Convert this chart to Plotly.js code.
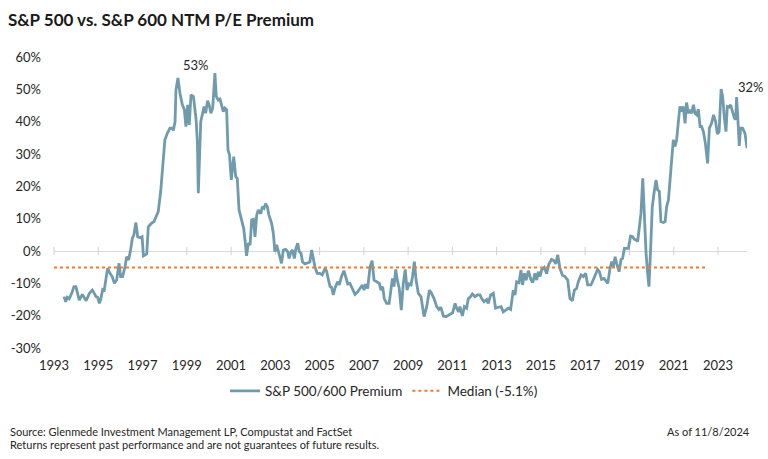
<!DOCTYPE html>
<html>
<head>
<meta charset="utf-8">
<script src="https://cdn.plot.ly/plotly-3.0.1.min.js"></script>
<style>
html,body{margin:0;padding:0;background:#fff;}
#chart{width:768px;height:459px;}
</style>
</head>
<body>
<div id="chart"></div>
<script>
// Dates as decimal years, premium in %
const years = [
1993.45,1993.53,1993.60,1993.69,1993.80,1993.90,1993.99,1994.07,1994.14,1994.28,1994.45,1994.60,1994.73,1994.82,1994.90,1994.97,
1995.05,1995.12,1995.20,1995.27,1995.38,1995.42,1995.53,1995.63,1995.73,1995.83,1995.94,1996.01,1996.10,1996.21,1996.28,1996.37,
1996.46,1996.54,1996.61,1996.70,1996.78,1996.89,1996.98,1997.04,1997.19,1997.26,1997.41,1997.52,1997.61,1997.71,1997.82,1997.94,
1998.01,1998.12,1998.24,1998.33,1998.39,1998.47,1998.51,1998.60,1998.69,1998.80,1998.89,1998.96,1999.04,1999.11,1999.19,1999.30,
1999.42,1999.48,1999.52,1999.63,1999.71,1999.78,1999.85,1999.94,2000.01,2000.09,2000.17,2000.27,2000.33,2000.42,2000.50,2000.57,
2000.65,2000.72,2000.80,2000.86,2000.93,2001.01,2001.12,2001.21,2001.28,2001.36,2001.48,2001.57,2001.63,2001.70,2001.78,2001.86,
2001.93,2002.01,2002.08,2002.16,2002.23,2002.34,2002.41,2002.49,2002.56,2002.64,2002.71,2002.83,2002.91,2002.98,2003.06,2003.13,
2003.21,2003.28,2003.36,2003.46,2003.56,2003.62,2003.71,2003.78,2003.86,2003.93,2004.01,2004.08,2004.16,2004.23,2004.34,2004.44,
2004.56,2004.64,2004.71,2004.79,2004.89,2005.01,2005.12,2005.24,2005.31,2005.39,2005.47,2005.54,2005.62,2005.69,2005.81,2005.89,
2005.99,2006.10,2006.19,2006.27,2006.37,2006.48,2006.60,2006.72,2006.83,2006.93,2007.01,2007.08,2007.17,2007.28,2007.37,2007.46,
2007.58,2007.70,2007.77,2007.85,2007.92,2008.03,2008.14,2008.21,2008.29,2008.36,2008.44,2008.51,2008.60,2008.69,2008.78,2008.87,
2008.95,2009.04,2009.13,2009.20,2009.28,2009.36,2009.46,2009.58,2009.72,2009.84,2009.96,2010.06,2010.17,2010.29,2010.39,2010.48,
2010.59,2010.71,2010.82,2010.89,2011.01,2011.12,2011.19,2011.28,2011.34,2011.45,2011.54,2011.64,2011.72,2011.80,2011.90,2012.02,
2012.13,2012.25,2012.32,2012.43,2012.55,2012.62,2012.73,2012.85,2012.95,2013.08,2013.20,2013.30,2013.41,2013.53,2013.63,2013.75,
2013.83,2013.90,2014.01,2014.10,2014.17,2014.25,2014.33,2014.43,2014.54,2014.63,2014.73,2014.81,2014.88,2014.96,2015.03,2015.15,
2015.26,2015.36,2015.48,2015.59,2015.67,2015.76,2015.86,2015.97,2016.09,2016.21,2016.31,2016.42,2016.51,2016.61,2016.69,2016.81,
2016.92,2017.02,2017.11,2017.26,2017.37,2017.47,2017.56,2017.64,2017.74,2017.85,2017.92,2018.02,2018.12,2018.20,2018.27,2018.35,
2018.42,2018.53,2018.62,2018.69,2018.77,2018.87,2018.95,2019.05,2019.14,2019.22,2019.30,2019.37,2019.45,2019.52,2019.60,2019.67,
2019.75,2019.82,2019.88,2019.96,2020.03,2020.12,2020.20,2020.27,2020.35,2020.42,2020.53,2020.61,2020.68,2020.76,2020.83,2020.91,
2020.98,2021.06,2021.13,2021.21,2021.28,2021.36,2021.43,2021.51,2021.58,2021.66,2021.73,2021.81,2021.89,2021.96,2022.04,2022.11,
2022.19,2022.26,2022.34,2022.43,2022.53,2022.61,2022.71,2022.80,2022.89,2022.97,2023.05,2023.14,2023.21,2023.29,2023.36,2023.42,
2023.50,2023.57,2023.66,2023.74,2023.80,2023.84,2023.92,2023.96,2024.02,2024.11,2024.22,2024.31
];
const premium = [
-14.1,-15.7,-14.3,-14.8,-13.1,-11.0,-11.0,-13.1,-15.2,-13.4,-15.4,-13.1,-12.1,-13.1,-14.1,-14.3,
-16.2,-14.7,-11.9,-12.1,-7.9,-5.4,-6.9,-7.9,-10.0,-9.0,-3.8,-7.9,-7.9,-4.9,-1.8,-2.8,
0.3,3.9,5.0,8.8,4.4,4.1,4.4,-1.5,-0.9,7.5,8.6,9.1,10.6,12.2,18.4,28.2,
34.4,36.4,38.0,38.0,37.3,40.0,49.8,53.5,48.8,45.2,43.7,38.5,45.2,39.0,48.3,47.8,
40.6,33.3,17.9,40.0,42.1,44.7,42.6,46.5,45.2,42.6,44.2,55.0,47.8,46.7,47.0,44.7,
43.1,44.2,43.7,31.3,29.7,22.0,29.2,23.0,22.5,12.7,9.6,7.0,3.4,-1.5,2.4,1.9,
9.6,9.8,4.4,11.1,12.7,11.5,13.7,13.2,14.6,13.7,11.1,8.6,5.5,-0.2,1.9,0.3,
-1.8,-3.8,0.3,0.5,-0.2,-2.3,-0.2,0.3,-2.3,0.8,2.4,-0.2,-0.7,-3.4,-4.0,-3.8,
-3.4,0.3,-2.3,-4.9,-6.9,-6.9,-7.4,-5.4,-6.1,-9.0,-11.0,-11.2,-13.6,-11.6,-9.5,-10.5,
-7.9,-6.1,-7.9,-10.2,-10.0,-11.6,-13.4,-12.6,-11.6,-10.5,-12.1,-10.2,-11.6,-4.9,-3.0,-9.0,
-9.5,-10.0,-12.1,-11.0,-14.7,-16.2,-16.2,-12.1,-8.5,-11.0,-5.7,-9.0,-11.6,-18.3,-10.0,-5.7,
-12.1,-10.2,-10.5,-7.9,-3.3,-9.0,-13.1,-14.1,-20.3,-17.2,-12.1,-13.1,-14.7,-17.2,-18.1,-17.4,
-20.1,-20.3,-19.8,-19.5,-19.1,-16.2,-17.7,-18.8,-17.2,-20.1,-17.2,-17.7,-14.7,-14.3,-13.3,-14.1,
-13.6,-13.6,-14.7,-15.7,-15.0,-16.2,-13.6,-13.1,-17.7,-17.4,-17.2,-18.8,-18.3,-17.7,-18.1,-12.1,
-13.6,-9.5,-9.8,-5.9,-10.5,-6.9,-9.0,-6.1,-8.7,-9.8,-6.9,-9.0,-6.4,-7.9,-5.9,-5.1,
-7.0,-4.0,-2.6,-3.0,-4.0,-1.2,-5.4,-7.5,-7.9,-9.0,-14.7,-15.4,-12.1,-11.6,-9.5,-7.4,
-7.9,-6.9,-10.5,-10.5,-8.8,-6.9,-5.7,-6.4,-8.8,-8.5,-9.2,-10.0,-5.4,-3.3,-4.9,-1.8,
-3.8,-6.4,-2.6,-2.3,0.8,0.8,0.8,4.6,4.4,3.6,3.4,2.9,7.5,11.7,22.5,10.6,
-0.7,-6.9,-11.0,1.3,13.7,18.4,22.0,18.9,18.4,9.1,8.8,9.1,13.7,15.8,21.5,28.2,
34.4,32.3,34.4,40.0,44.7,43.1,44.7,39.5,45.9,42.6,43.7,42.6,45.2,42.6,42.1,43.9,
38.5,38.5,36.9,33.3,27.1,38.0,39.5,42.1,40.0,36.2,36.9,50.1,47.8,41.1,36.9,44.7,
44.5,45.2,42.8,41.1,40.6,47.6,38.0,32.5,38.0,38.0,36.4,31.8
];
const medianYears = [1993.0, 2022.55];
const medianValue = -5.1;
const tickYears = [1993,1995,1997,1999,2001,2003,2005,2007,2009,2011,2013,2015,2017,2019,2021,2023];
const tickLabels = tickYears.map(String);
const yTicks = [-30,-20,-10,0,10,20,30,40,50,60];
const yTickLabels = yTicks.map(v => v + '%');
const labelYears = [1999.42, 2024.5];
const labelValues = [57.6, 50.8];
const labelTexts = ['53%', '32%'];
const footLeft = ['Source: Glenmede Investment Management LP, Compustat and FactSet',
                  'Returns represent past performance and are not guarantees of future results.'];
const footRight = 'As of 11/8/2024';

const FONT = 'Lato, "Open Sans", sans-serif';
const lineColor = '#709BAD';
const orange = '#EE7D31';
const W = 768, H = 459, L = 54, R = 21, T = 57, B = 111;
const pw = W - L - R, ph = H - T - B;
const px = xp => (xp - L) / pw;          // page x -> paper
const py = yp => (H - B - yp) / ph;      // page y -> paper
const xMax = years[years.length - 1];

const traces = [
  {x: tickYears, y: tickYears.map(() => 0), type: 'scatter', mode: 'markers',
   marker: {symbol: 'line-ns-open', size: 6, color: '#d0d0d0', line: {color: '#d0d0d0', width: 1}},
   showlegend: false, hoverinfo: 'skip', cliponaxis: false},
  {x: years, y: premium, type: 'scatter', mode: 'lines', name: 'S&P 500/600 Premium',
   line: {color: lineColor, width: 2.8}},
  {x: medianYears, y: [medianValue, medianValue], type: 'scatter', mode: 'lines', name: 'Median (-5.1%)',
   line: {color: orange, width: 2, dash: 'dot'}}
];

const annotations = labelTexts.map((t, i) => ({
  x: labelYears[i], y: labelValues[i], xref: 'x', yref: 'y', text: t, showarrow: false,
  xanchor: 'center', yanchor: 'middle',
  font: {family: FONT, size: 13, color: '#262626'}
}));
// the 32% label sits beyond the last data point: place it relative to the axis domain
annotations[1].xref = 'paper';
annotations[1].x = 1 + (labelYears[1] - xMax) / (xMax - 1993);
annotations.push(
  {xref: 'paper', yref: 'paper', x: px(8), y: py(432), xanchor: 'left', yanchor: 'middle',
   text: footLeft[0], showarrow: false, font: {family: FONT, size: 11, color: '#262626'}},
  {xref: 'paper', yref: 'paper', x: px(8), y: py(444.5), xanchor: 'left', yanchor: 'middle',
   text: footLeft[1], showarrow: false, font: {family: FONT, size: 11, color: '#262626'}},
  {xref: 'paper', yref: 'paper', x: px(752), y: py(432), xanchor: 'right', yanchor: 'middle',
   text: footRight, showarrow: false, font: {family: FONT, size: 11, color: '#262626'}}
);

const layout = {
  width: W, height: H,
  margin: {l: L, r: R, t: T, b: B},
  paper_bgcolor: '#fff', plot_bgcolor: '#fff',
  font: {family: FONT, color: '#262626'},
  title: {text: 'S&P 500 vs. S&P 600 NTM P/E Premium', x: 8/768, xanchor: 'left', xref: 'container',
          y: 1 - 20/459, yanchor: 'middle', yref: 'container',
          font: {family: FONT, size: 17, color: '#1a1a1a', weight: 'bold'}},
  xaxis: {range: [1993, xMax], tickvals: tickYears, ticktext: tickLabels, showgrid: false,
          zeroline: false, showline: false, ticks: '', tickfont: {size: 13, color: '#262626'},
          ticklabelstandoff: 8, fixedrange: true},
  yaxis: {range: [-30, 60], tickvals: yTicks, ticktext: yTickLabels, showgrid: false,
          zeroline: true, zerolinecolor: '#d9d9d9', zerolinewidth: 1, showline: false, ticks: '',
          tickfont: {size: 13, color: '#262626'}, ticklabelstandoff: 12, fixedrange: true},
  showlegend: true,
  legend: {orientation: 'h', xref: 'container', yref: 'container', x: 0.5, xanchor: 'center',
           y: 1 - 391/459, yanchor: 'middle', font: {size: 13.5, color: '#262626'},
           traceorder: 'normal'},
  annotations: annotations
};

Plotly.newPlot('chart', traces, layout, {displayModeBar: false, staticPlot: true});
</script>
</body>
</html>
